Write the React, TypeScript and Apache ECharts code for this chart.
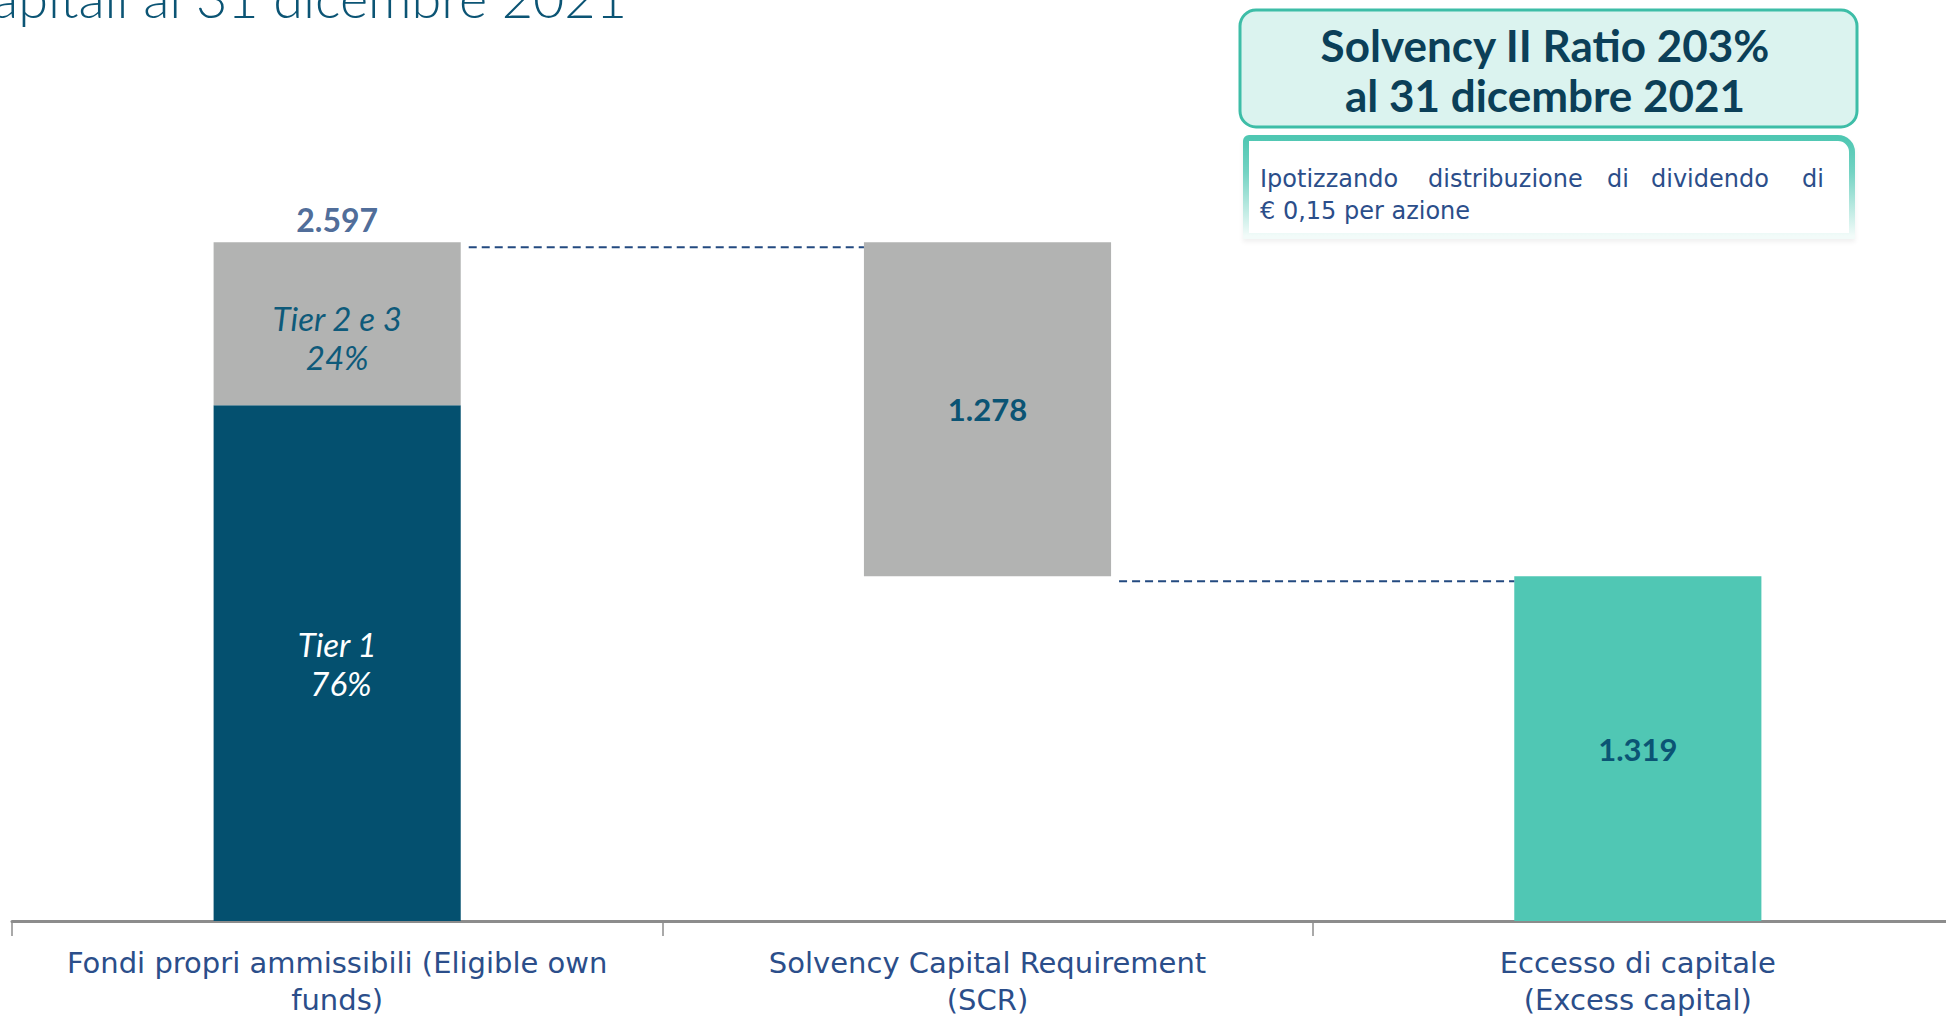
import React, { useEffect, useRef } from "react";
import * as echarts from "echarts";

const categories = [
  "Fondi propri ammissibili (Eligible own\nfunds)",
  "Solvency Capital Requirement\n(SCR)",
  "Eccesso di capitale\n(Excess capital)",
];
const tier1 = [1974, null, null];
const tier23 = [623, null, null];
const scrBase = [null, 1319, null];
const scr = [null, 1278, null];
const excess = [null, null, 1319];
const totals = [2597, null, null];
// connectors: [fromIndex, toIndex, level]
const connectors = [
  [0, 1, 2597],
  [1, 2, 1319],
];
const tierNames = ["Tier 1", "Tier 2 e 3"];

const fmt = (v: number) => String(v).replace(/\B(?=(\d{3})+(?!\d))/g, ".");
const FONT = "Lato";
const WIDE = "'DejaVu Sans'";
const BAR_W = 0.38;

export default function App() {
  const ref = useRef<HTMLDivElement>(null);
  useEffect(() => {
    if (!ref.current) return;
    const chart = echarts.init(ref.current, undefined, { renderer: "svg" });
    const total0 = (tier1[0] as number) + (tier23[0] as number);
    const option: any = {
      animation: false,
      backgroundColor: "#ffffff",
      grid: {
        left: 12,
        right: -17,
        top: 137,
        bottom: 97,
        containLabel: false,
        outerBoundsMode: "none",
      },
      xAxis: {
        type: "category",
        data: categories,
        axisLine: { show: true, lineStyle: { color: "#8C8C8C", width: 3 } },
        axisTick: { show: true, length: 15, lineStyle: { color: "#8C8C8C", width: 1.5 } },
        axisLabel: {
          interval: 0,
          margin: 23,
          color: "#2B4E8A",
          fontFamily: WIDE,
          fontSize: 29,
          lineHeight: 37,
        },
      },
      yAxis: { type: "value", min: 0, max: 3000, show: false, splitLine: { show: false } },
      series: [
        {
          name: tierNames[0],
          type: "bar",
          stack: "s",
          barWidth: BAR_W * 100 + "%",
          data: tier1,
          itemStyle: { color: "#04506F" },
          label: {
            show: true,
            position: "inside",
            formatter: (p: any) => `Tier 1\n ${Math.round((p.value / total0) * 100)}%`,
            color: "#ffffff",
            fontStyle: "italic",
            fontFamily: FONT,
            fontSize: 33,
            lineHeight: 39,
          },
        },
        {
          name: tierNames[1],
          type: "bar",
          stack: "s",
          data: tier23,
          itemStyle: { color: "#B2B3B2" },
          label: {
            show: true,
            position: "inside",
            formatter: (p: any) => `Tier 2 e 3\n${Math.round((p.value / total0) * 100)}%`,
            color: "#0E5A7A",
            fontStyle: "italic",
            fontFamily: FONT,
            fontSize: 33,
            lineHeight: 39,
            offset: [0, 14],
          },
        },
        {
          name: "base",
          type: "bar",
          stack: "s",
          data: scrBase,
          itemStyle: { color: "transparent" },
          silent: true,
        },
        {
          name: "SCR",
          type: "bar",
          stack: "s",
          data: scr,
          itemStyle: { color: "#B2B3B2" },
          label: {
            show: true,
            position: "inside",
            formatter: (p: any) => fmt(p.value),
            color: "#0B5474",
            fontWeight: "bold",
            fontFamily: FONT,
            fontSize: 31,
          },
        },
        {
          name: "Excess",
          type: "bar",
          stack: "s",
          data: excess,
          itemStyle: { color: "#50C7B4" },
          label: {
            show: true,
            position: "inside",
            formatter: (p: any) => fmt(p.value),
            color: "#0B5474",
            fontWeight: "bold",
            fontFamily: FONT,
            fontSize: 31,
          },
        },
        {
          name: "total",
          type: "scatter",
          data: totals,
          symbolSize: 1,
          itemStyle: { color: "transparent" },
          label: {
            show: true,
            position: "top",
            distance: 6,
            formatter: (p: any) => fmt(p.value),
            color: "#21467E",
            fontWeight: "bold",
            fontFamily: FONT,
            fontSize: 32,
          },
        },
        {
          name: "connectors",
          type: "custom",
          data: connectors,
          encode: { x: 0, y: 2 },
          z: 5,
          renderItem: (params: any, api: any) => {
            const a = api.coord([api.value(0), api.value(2)]);
            const b = api.coord([api.value(1), api.value(2)]);
            const band = api.size([1, 0])[0];
            const half = (band * BAR_W) / 2;
            return {
              type: "line",
              shape: { x1: a[0] + half + 8, y1: a[1] + 5, x2: b[0] - half, y2: b[1] + 5 },
              style: { stroke: "#234A80", lineWidth: 2, lineDash: [8, 5] },
            };
          },
        },
      ],
      graphic: [
        {
          type: "text",
          x: 627,
          y: 24,
          style: {
            text: "Requisiti di capitali al 31 dicembre 2021",
            align: "right",
            verticalAlign: "bottom",
            fill: "#0B5474",
            font: `300 54px ${FONT}`,
          },
        },
        {
          type: "rect",
          shape: { x: 1240, y: 10, width: 617, height: 117, r: 16 },
          style: { fill: "#DBF3EF", stroke: "#3DBDA7", lineWidth: 3 },
        },
        {
          type: "text",
          x: 1545,
          y: 70,
          style: {
            text: "Solvency II Ratio 203%\nal 31 dicembre 2021",
            align: "center",
            verticalAlign: "middle",
            fill: "#0B3F58",
            font: `bold 44px ${FONT}`,
            lineHeight: 50,
          },
        },
        {
          type: "rect",
          shape: { x: 1246, y: 138, width: 606, height: 98, r: [3, 14, 0, 0] },
          style: {
            fill: "#ffffff",
            stroke: new echarts.graphic.LinearGradient(0, 0, 0, 1, [
              { offset: 0, color: "#4FC7B2" },
              { offset: 0.35, color: "#74D3C3" },
              { offset: 1, color: "#F2FBF9" },
            ]),
            lineWidth: 6,
            shadowColor: "rgba(0,0,0,0.06)",
            shadowBlur: 4,
            shadowOffsetY: 3,
          },
        },
        ...[
          { t: "Ipotizzando", x: 1260, y: 179, a: "left" },
          { t: "distribuzione", x: 1428, y: 179, a: "left" },
          { t: "di", x: 1607, y: 179, a: "left" },
          { t: "dividendo", x: 1651, y: 179, a: "left" },
          { t: "di", x: 1824, y: 179, a: "right" },
          { t: "€ 0,15 per azione", x: 1260, y: 211, a: "left" },
        ].map((w) => ({
          type: "text",
          x: w.x,
          y: w.y,
          style: {
            text: w.t,
            align: w.a,
            verticalAlign: "middle",
            fill: "#2B4E8A",
            font: `24px ${WIDE}`,
          },
        })),
      ],
    };
    chart.setOption(option);
    return () => chart.dispose();
  }, []);
  return (
    <div
      ref={ref}
      style={{ position: "fixed", left: 0, top: 0, width: 1946, height: 1018, background: "#fff" }}
    />
  );
}
